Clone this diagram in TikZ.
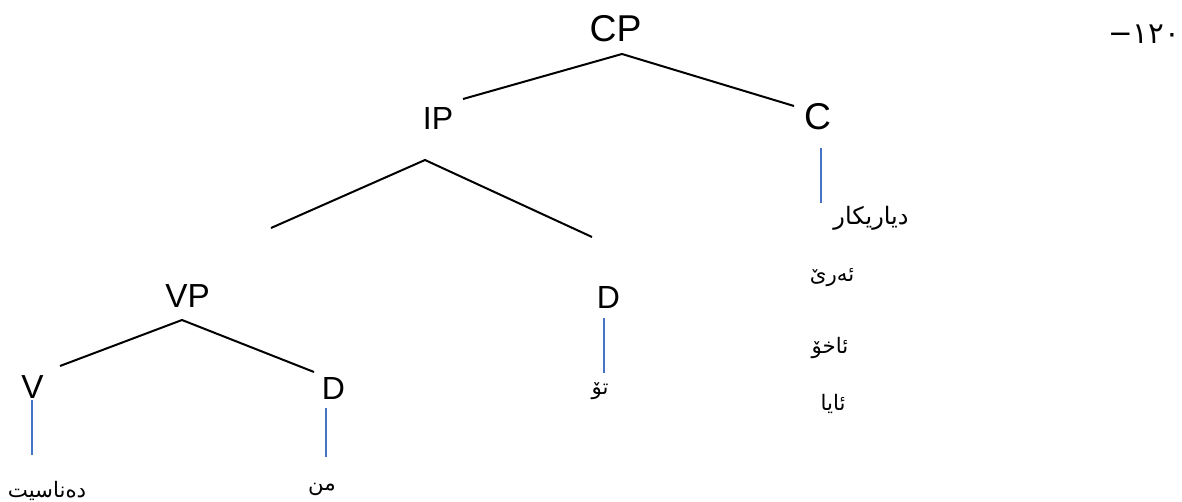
\documentclass[tikz,border=0pt]{standalone}
\usepackage{fontspec}
\setmainfont{Liberation Sans}
\newfontfamily\arabicfont[Script=Arabic]{DejaVu Sans}
\TeXXeTstate=1
\usepackage{tikz}
\usetikzlibrary{positioning}
\definecolor{wordblue}{RGB}{68,114,196}

\tikzset{
	bigcat/.style={anchor=base, inner sep=0pt, font=\fontsize{28}{30}\selectfont},
	cat/.style={anchor=base, inner sep=0pt, font=\fontsize{25}{27}\selectfont},
	smallcat/.style={anchor=base, inner sep=0pt, font=\fontsize{24}{26}\selectfont},
	word/.style={inner sep=0pt, font=\fontsize{16}{18}\arabicfont},
	bigword/.style={inner sep=0pt, font=\fontsize{18}{20}\arabicfont},
	branch/.style={line width=1.5pt, black},
	lexline/.style={line width=1.1pt, wordblue},
}

\begin{document}
\begin{tikzpicture}[x=0.75pt,y=-0.75pt]
	\useasboundingbox (0,0) rectangle (1182,502);
	
	% category labels, placed on their baselines
	\node[bigcat] (CP) at (615.5,42) {CP};
	\node[smallcat] (IP) at (438,130) {IP};
	\node[bigcat] (C) at (817.5,130) {C};
	\node[cat] (VP) at (187.5,308) {VP};
	\node[smallcat] (D2) at (608.5,309) {D};
	\node[cat] (V) at (32.5,398) {V};
	\node[smallcat] (D1) at (333.5,399) {D};
	
	% words
	\node[bigword] (Comp) at (871,218) {\beginR دیاریکار\endR};
	\node[word] (Are) at (832,278) {\beginR ئەرێ\endR};
	\node[word] (Akho) at (830,348) {\beginR ئاخۆ\endR};
	\node[word] (Aya) at (833,404) {\beginR ئایا\endR};
	\node[word] (To) at (600,391) {\beginR تۆ\endR};
	\node[word] (Min) at (322,489) {\beginR من\endR};
	\node[word] (Dena) at (47,491) {\beginR دەناسیت\endR};
	\node[word, font=\fontsize{22}{24}\arabicfont] (Num) at (1144,34) {١٢٠−};
	
	% branch ends: the lines stop short of the labels
	\coordinate (CPfoot) at (622,54);
	\coordinate (IPtop) at (463,99);
	\coordinate (Ctop) at (794,106);
	\coordinate (IPfoot) at (425,160);
	\coordinate (IPleft) at (271,228);
	\coordinate (IPright) at (592,237);
	\coordinate (VPfoot) at (182,320);
	\coordinate (Vtop) at (60,366);
	\coordinate (D1top) at (314,372);
	
	\coordinate (Cfoot) at (821,148);
	\coordinate (Compstem) at (821,203);
	\coordinate (D2foot) at (604,318);
	\coordinate (Tostem) at (604,373);
	\coordinate (Vfoot) at (32,400);
	\coordinate (Denastem) at (32,455);
	\coordinate (D1foot) at (326,408);
	\coordinate (Minstem) at (326,457);
	
	%%%%%%%%%%%%%%%%%%%%%%%%%%%%%%%%%%%%%%%%%%%%%%%%%%%%%%%%%%%%%%
	\draw[branch] (IPtop) -- (CPfoot) -- (Ctop);
	\draw[branch] (IPleft) -- (IPfoot) -- (IPright);
	\draw[branch] (Vtop) -- (VPfoot) -- (D1top);
	
	\draw[lexline] (Cfoot) -- (Compstem);
	\draw[lexline] (D2foot) -- (Tostem);
	\draw[lexline] (Vfoot) -- (Denastem);
	\draw[lexline] (D1foot) -- (Minstem);
	
\end{tikzpicture}
\end{document}
